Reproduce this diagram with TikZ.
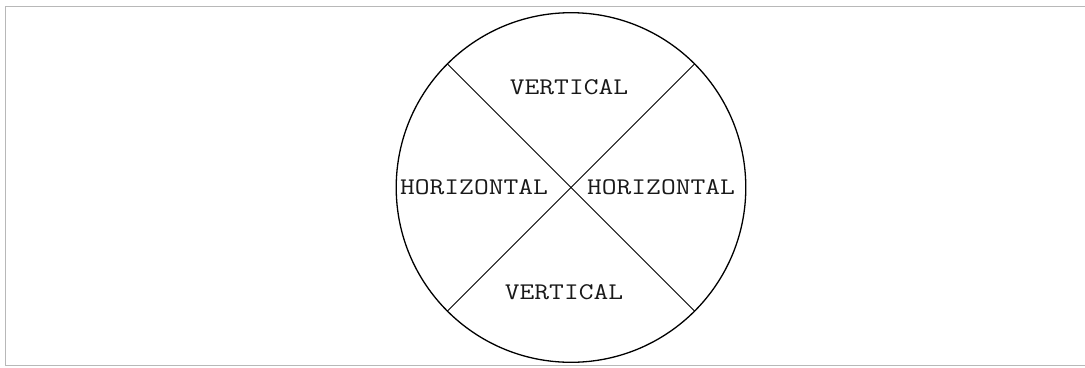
\documentclass[tikz,border=0pt]{standalone}
\usepackage{tikz}

\begin{document}
\begin{tikzpicture}[x=1bp, y=-1bp, line cap=butt,
  lbl/.style={font=\ttfamily\fontsize{24}{28}\selectfont, inner sep=0pt, text=black!90, xscale=1.2}]
\useasboundingbox (0, 0) rectangle (1085, 367);
\draw[black!28, line width=1.3bp] (1085, 6.5) -- (5.8, 6.5) -- (5.8, 365.3) -- (1085, 365.3);
\coordinate (o) at (571, 187.5);
\draw[line width=1.3bp] (o) circle (174.8);
\draw[line width=1bp] (o) ++(135:174.8) coordinate (nw) -- (o) -- ++(-45:174.8) coordinate (se);
\draw[line width=1bp] (o) ++(45:174.8) coordinate (ne) -- (o) -- ++(-135:174.8) coordinate (sw);
\node[lbl] (top) at (569, 87) {VERTICAL};
\node[lbl] (bot) at (564, 292) {VERTICAL};
\node[lbl] (lft) at (474, 187) {HORIZONTAL};
\node[lbl] (rgt) at (661, 187) {HORIZONTAL};
\end{tikzpicture}
\end{document}
